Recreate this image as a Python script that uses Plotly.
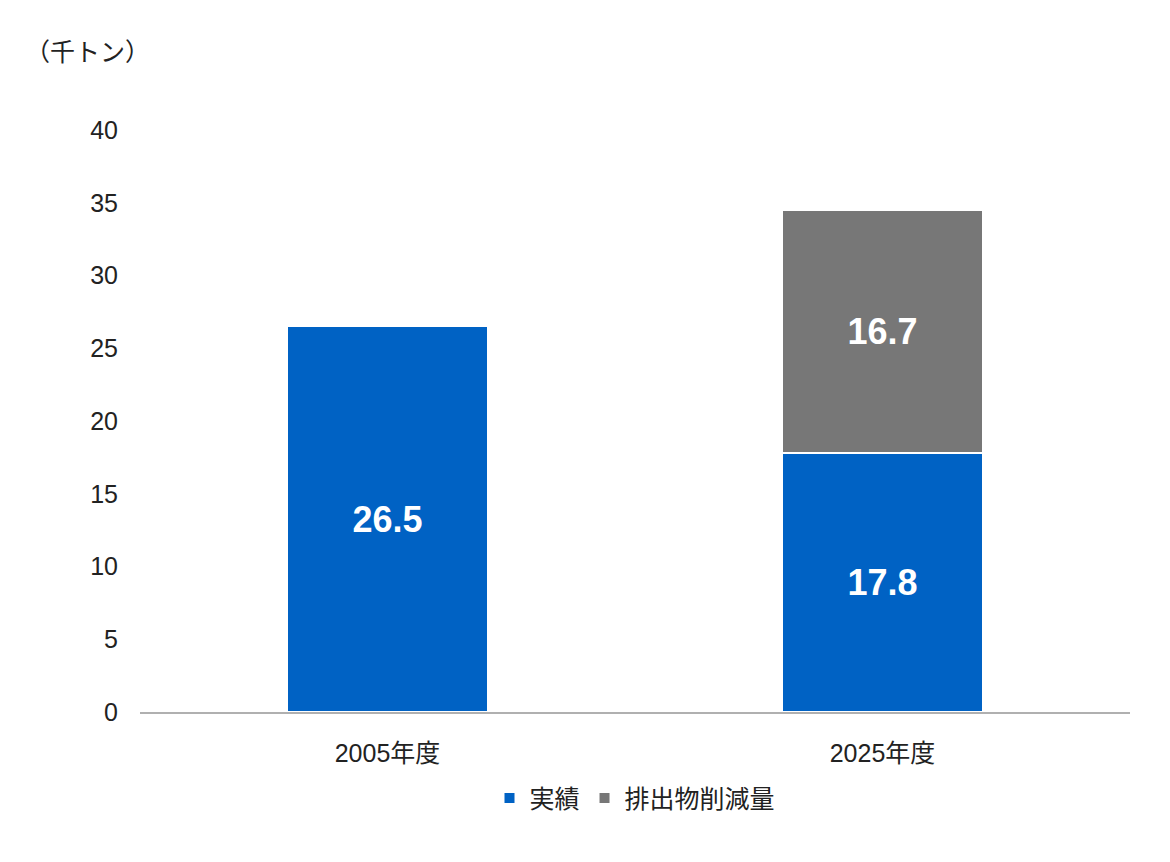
import plotly.graph_objects as go

categories = ["2005年度", "2025年度"]
actual = [26.5, 17.8]
reduction = [None, 16.7]
series_names = ["実績", "排出物削減量"]
y_ticks = [0, 5, 10, 15, 20, 25, 30, 35, 40]

font_family = "Arial, Liberation Sans, Noto Sans CJK JP, sans-serif"
label_font = dict(color="white", size=36, family=font_family, weight="bold")

fig = go.Figure()
fig.add_trace(go.Bar(
    x=categories, y=actual, name=series_names[0],
    marker=dict(color="#0062C4", line=dict(color="white", width=2)),
    text=[f"{v:.1f}" for v in actual], textposition="inside",
    insidetextanchor="middle", textfont=label_font,
))
fig.add_trace(go.Bar(
    x=categories, y=reduction, name=series_names[1],
    marker=dict(color="#777777", line=dict(color="white", width=2)),
    text=["" if v is None else f"{v:.1f}" for v in reduction], textposition="inside",
    insidetextanchor="middle", textfont=label_font,
))

# page body has an 8px margin, so the plot box is shifted left/up by 8px
fig.update_layout(
    barmode="stack",
    bargap=0.592,
    width=1170, height=862,
    margin=dict(l=132, r=48, t=122, b=158),
    plot_bgcolor="white", paper_bgcolor="white",
    font=dict(family=font_family, size=25, color="#222222"),
    showlegend=True,
    legend=dict(orientation="h", x=0.5, xanchor="center", y=-0.148, yanchor="middle",
                font=dict(size=25), traceorder="normal"),
    xaxis=dict(showline=True, linecolor="#b0b0b0", linewidth=1.5, ticks="outside",
               ticklen=18, tickcolor="white", tickfont=dict(size=25), showgrid=False),
    yaxis=dict(range=[0, 40], tickvals=y_ticks, showgrid=False, zeroline=False,
               showline=False, ticks="outside", ticklen=16, tickcolor="white",
               tickfont=dict(size=25)),
)
fig.add_annotation(text="（千トン）", xref="paper", yref="paper", x=-0.118, y=1.134,
                   xanchor="left", yanchor="middle", showarrow=False,
                   font=dict(size=25, family=font_family))

fig.write_html("out.html")
